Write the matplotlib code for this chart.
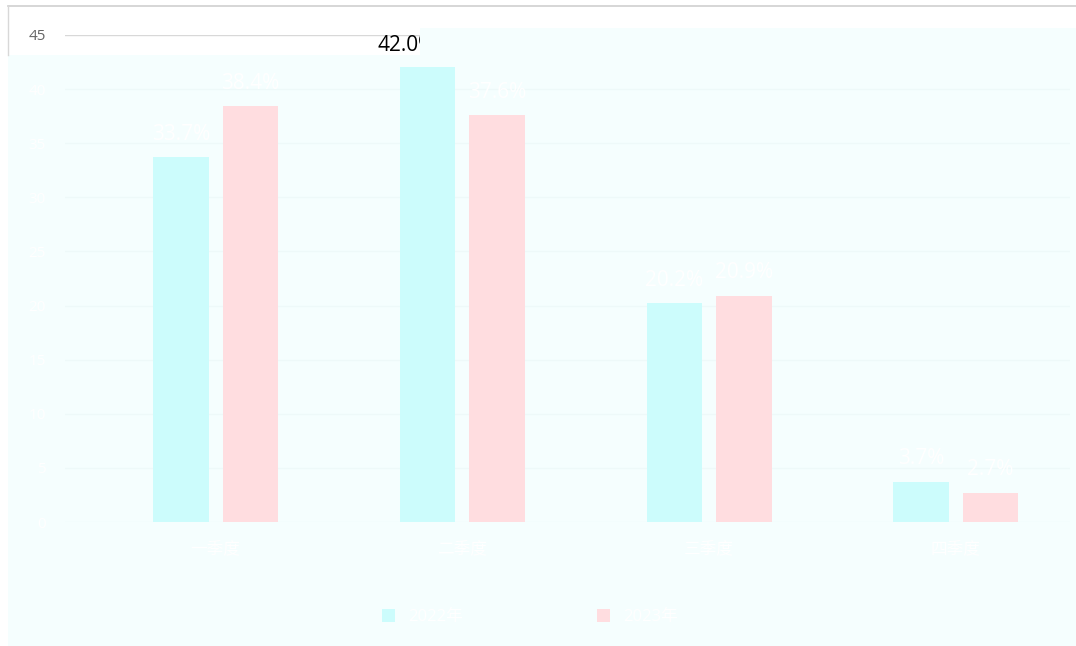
import matplotlib.pyplot as plt
from matplotlib.patches import Rectangle
from matplotlib.lines import Line2D
import numpy as np

plt.rcParams['font.family'] = ['Open Sans', 'Noto Sans CJK SC', 'DejaVu Sans']

# data
categories = ['一季度', '二季度', '三季度', '四季度']
series_names = ['2022年', '2023年']
values_a = [33.7, 42.0, 20.2, 3.7]
values_b = [38.4, 37.6, 20.9, 2.7]
y_ticks = [0, 5, 10, 15, 20, 25, 30, 35, 40, 45]

W, H = 1076, 646
wash = '#f5fefe'
cyan = '#ccfcfc'
pink = '#ffdde0'


def fx(px):
    return px / W


def fy(py):
    return 1 - py / H


fig = plt.figure(figsize=(W / 100, H / 100), dpi=100, facecolor='white')

# washed-out panel behind the plot
fig.add_artist(Rectangle((fx(8), 0), 1 - fx(8), fy(55), transform=fig.transFigure,
                         facecolor=wash, edgecolor='none', zorder=-1))
# frame lines of the container
fig.add_artist(Line2D([fx(8), 1], [fy(6), fy(6)], transform=fig.transFigure,
                      color='#cfcfcf', lw=1.2))
fig.add_artist(Line2D([fx(8), fx(8)], [fy(6), fy(55)], transform=fig.transFigure,
                      color='#d8d8d8', lw=1))

ax = fig.add_axes([fx(65), fy(522), fx(1070) - fx(65), (522 - 35) / H])
ax.patch.set_alpha(0)

x = np.arange(len(categories))
bw = 0.225
bars_a = ax.bar(x - 0.14, values_a, bw, color=cyan, label=series_names[0], zorder=2)
bars_b = ax.bar(x + 0.142, values_b, bw, color=pink, label=series_names[1], zorder=2)

ax.set_xlim(-0.61, 3.464)
ax.set_ylim(0, 45)

# value labels, washed to white except the one in the clear strip
labs_a = ax.bar_label(bars_a, labels=[f'{v:.1f}%' for v in values_a], padding=9,
                      color='white', fontsize=15)
labs_b = ax.bar_label(bars_b, labels=[f'{v:.1f}%' for v in values_b], padding=9,
                      color='white', fontsize=15)
top = labs_a[int(np.argmax(values_a))]
top.set_color('black')
top.xyann = (-15, 8)

# grid
for t in y_ticks[:-1]:
    ax.axhline(t, color='#eef9f9', lw=1, zorder=0)
ax.axhline(45, color='#d8d8d8', lw=1, zorder=0)

ax.set_yticks(y_ticks)
ax.set_xticks(x)
ax.set_xticklabels(categories, color='white', fontsize=12)
ax.tick_params(length=0, pad=14)
for i, lab in enumerate(ax.get_yticklabels()):
    lab.set_fontsize(11)
    lab.set_color('#666666' if i == len(y_ticks) - 1 else 'white')
for s in ax.spines.values():
    s.set_visible(False)

fig.legend(loc='center', bbox_to_anchor=(fx(530), fy(617)), ncol=2, frameon=False,
           columnspacing=8, handlelength=0.8, handleheight=0.8,
           labelcolor='white', fontsize=12)

# washed band over the right part of the top strip
fig.add_artist(Rectangle((fx(420), fy(55)), 1 - fx(420), (55 - 28) / H,
                         transform=fig.transFigure, facecolor=wash,
                         edgecolor='none', zorder=5))

fig.savefig('out.png', dpi=100, facecolor='white')
